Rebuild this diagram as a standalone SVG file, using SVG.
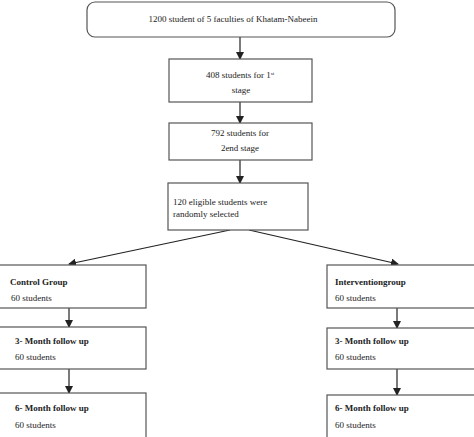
<svg xmlns="http://www.w3.org/2000/svg" width="474" height="437" viewBox="0 0 474 437">
<defs>
<marker id="ah" markerWidth="8" markerHeight="8" refX="7" refY="4" orient="auto" markerUnits="userSpaceOnUse">
<path d="M0,0 L8,4 L0,8 Z" fill="#222"/>
</marker>
<style>
.box{fill:#fff;stroke:#555;stroke-width:1.2}
.t{font-family:"Liberation Serif","DejaVu Serif",serif;font-size:9px;fill:#222}
.b{font-weight:bold}
.c{text-anchor:middle}
.ln{stroke:#222;stroke-width:1.2;fill:none;marker-end:url(#ah)}
</style>
</defs>
<rect width="474" height="437" fill="#fff"/>
<g id="connectors">
<line class="ln" x1="240" y1="37" x2="240" y2="59"/>
<line class="ln" x1="240" y1="102" x2="240" y2="123"/>
<line class="ln" x1="240" y1="160" x2="240" y2="183"/>
<line class="ln" x1="230" y1="230" x2="69" y2="264"/>
<line class="ln" x1="249" y1="230" x2="398" y2="264"/>
<line class="ln" x1="69" y1="308" x2="69" y2="327"/>
<line class="ln" x1="69" y1="369" x2="69" y2="393"/>
<line class="ln" x1="397" y1="308" x2="397" y2="328"/>
<line class="ln" x1="397" y1="369" x2="397" y2="395"/>
</g>
<g id="n1">
<rect class="box" x="87" y="2" width="308" height="35" rx="8"/>
<text class="t c" x="233" y="22">1200 student of 5 faculties of Khatam-Nabeein</text>
</g>
<g id="n2">
<rect class="box" x="169" y="59" width="143" height="43"/>
<text class="t c" x="240" y="78">408 students for 1<tspan font-size="5" dy="-3">st</tspan></text>
<text class="t c" x="241" y="93">stage</text>
</g>
<g id="n3">
<rect class="box" x="169" y="123" width="143" height="37"/>
<text class="t c" x="240" y="136">792 students for</text>
<text class="t c" x="240" y="151">2end stage</text>
</g>
<g id="n4">
<rect class="box" x="168" y="183" width="140" height="47"/>
<text class="t" x="173" y="205">120 eligible students were</text>
<text class="t" x="173" y="217">randomly selected</text>
</g>
<g id="n5">
<rect class="box" x="-2" y="265" width="148" height="43"/>
<text class="t b" x="10" y="285">Control Group</text>
<text class="t" x="11" y="301">60 students</text>
</g>
<g id="n6">
<rect class="box" x="-2" y="327" width="148" height="42"/>
<text class="t b" x="15" y="344">3- Month follow up</text>
<text class="t" x="15" y="360">60 students</text>
</g>
<g id="n7">
<rect class="box" x="-2" y="393" width="148" height="50"/>
<text class="t b" x="15" y="411">6- Month follow up</text>
<text class="t" x="15" y="428">60 students</text>
</g>
<g id="n8">
<rect class="box" x="327" y="265" width="150" height="43"/>
<text class="t b" x="335" y="285">Interventiongroup</text>
<text class="t" x="335" y="301">60 students</text>
</g>
<g id="n9">
<rect class="box" x="327" y="328" width="150" height="41"/>
<text class="t b" x="335" y="344">3- Month follow up</text>
<text class="t" x="335" y="360">60 students</text>
</g>
<g id="n10">
<rect class="box" x="327" y="395" width="150" height="48"/>
<text class="t b" x="335" y="411">6- Month follow up</text>
<text class="t" x="335" y="428">60 students</text>
</g>
</svg>
